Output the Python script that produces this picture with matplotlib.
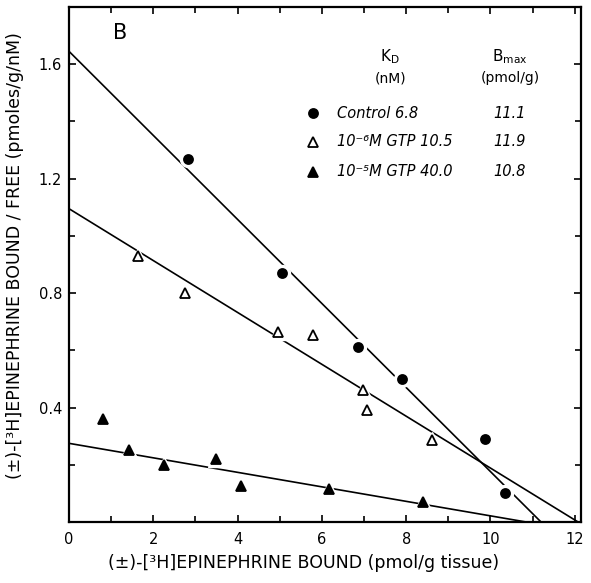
import matplotlib
matplotlib.use('Agg')
import matplotlib.pyplot as plt
import numpy as np

# --- data ---
control_x = [2.83, 5.05, 6.86, 7.89, 9.87, 10.35]
control_y = [1.27, 0.87, 0.61, 0.50, 0.29, 0.10]
gtp6_x = [1.64, 2.74, 4.96, 5.80, 6.97, 7.08, 8.62]
gtp6_y = [0.93, 0.80, 0.665, 0.655, 0.46, 0.39, 0.285]
gtp5_x = [0.81, 1.42, 2.26, 3.48, 4.08, 6.18, 8.41]
gtp5_y = [0.36, 0.25, 0.20, 0.22, 0.125, 0.115, 0.07]

# fitted Scatchard lines: y-intercept and x-intercept
line_y0 = [1.645, 1.095, 0.275]
line_x0 = [11.2, 12.08, 10.85]

labels = ['Control 6.8', '10\u207b\u2076M GTP 10.5', '10\u207b\u2075M GTP 40.0']
bmax_txt = ['11.1', '11.9', '10.8']

fig = plt.figure(figsize=(5.91, 5.83), dpi=100)
ax = fig.add_axes([0.1168, 0.1046, 0.8664, 0.8834])

series = [(control_x, control_y, 'o', 'k', 6.5),
          (gtp6_x, gtp6_y, '^', 'w', 7),
          (gtp5_x, gtp5_y, '^', 'k', 7)]

for i, (xs, ys, m, fc, ms) in enumerate(series):
    ax.plot([0, line_x0[i]], [line_y0[i], 0], color='k', lw=1.2, zorder=1)
    # white halo so the line breaks around each point
    ax.plot(xs, ys, m, ms=ms + 5, color='w', zorder=2)
    ax.plot(xs, ys, m, ms=ms, mfc=fc, mec='k', mew=1.3, zorder=3)

ax.set_xlim(0, 12.15)
ax.set_ylim(0, 1.8)
ax.set_xticks([0, 2, 4, 6, 8, 10, 12])
ax.set_xticklabels(['0', '2', '4', '6', '8', '10', '12'])
ax.set_xticks(np.arange(1, 12, 2), minor=True)
ax.set_yticks([0.4, 0.8, 1.2, 1.6])
ax.set_yticklabels(['0.4', '0.8', '1.2', '1.6'])
ax.set_yticks([0.2, 0.6, 1.0, 1.4], minor=True)
ax.tick_params(which='both', direction='in', top=True, right=True,
               width=1.2, labelsize=10.5)
ax.tick_params(which='major', length=5)
ax.tick_params(which='minor', length=4.5)
ax.tick_params(axis='x', pad=7)
ax.tick_params(axis='y', pad=5)
for s in ax.spines.values():
    s.set_linewidth(1.6)

ax.set_xlabel('(\u00b1)-[\u00b3H]EPINEPHRINE BOUND (pmol/g tissue)', fontsize=12.5)
ax.xaxis.set_label_coords(0.459, -0.062)
ax.set_ylabel('(\u00b1)-[\u00b3H]EPINEPHRINE BOUND / FREE (pmoles/g/nM)', fontsize=12.5)
ax.yaxis.set_label_coords(-0.088, 0.517)

ax.text(0.0996, 0.950, 'B', transform=ax.transAxes, fontsize=15,
        ha='center', va='center')

# key table
ax.text(0.627, 0.903, 'K$_\\mathrm{D}$', transform=ax.transAxes, fontsize=11,
        ha='center', va='center')
ax.text(0.627, 0.862, '(nM)', transform=ax.transAxes, fontsize=10,
        ha='center', va='center')
ax.text(0.861, 0.903, 'B$_\\mathrm{max}$', transform=ax.transAxes, fontsize=11,
        ha='center', va='center')
ax.text(0.861, 0.862, '(pmol/g)', transform=ax.transAxes, fontsize=10,
        ha='center', va='center')

rows_y = [0.794, 0.738, 0.680]
for i, (xs, ys, m, fc, ms) in enumerate(series):
    ax.plot([0.4766], [rows_y[i]], m, ms=ms, mfc=fc, mec='k', mew=1.3,
            transform=ax.transAxes, clip_on=False)
    ax.text(0.523, rows_y[i], labels[i], transform=ax.transAxes, fontsize=10.5,
            style='italic', ha='left', va='center')
    ax.text(0.861, rows_y[i], bmax_txt[i], transform=ax.transAxes, fontsize=10.5,
            style='italic', ha='center', va='center')

fig.savefig('out.png', dpi=100)
